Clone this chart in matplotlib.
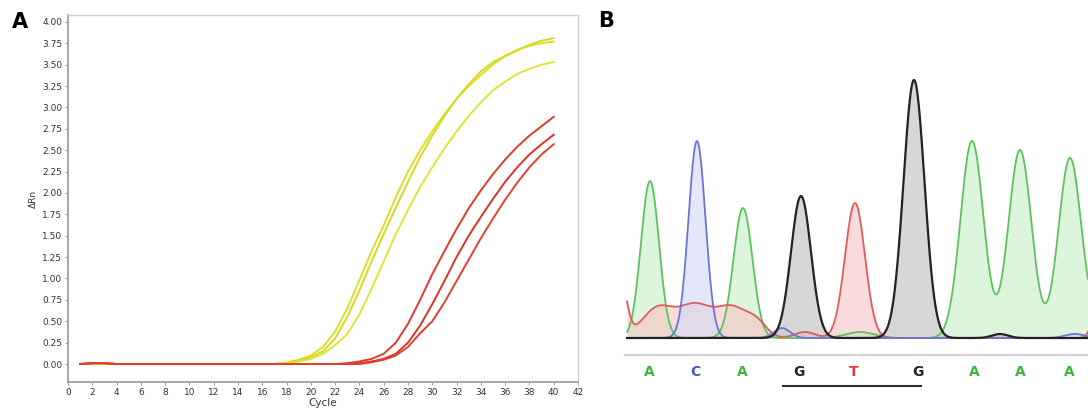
import numpy as np
import matplotlib
matplotlib.use("Agg")
import matplotlib.pyplot as plt

# ---- panel A: amplification curves (delta Rn per cycle) ----
cycles = list(range(1, 41))

def pad(tail, n=40):
    # leading cycles are flat at zero, tail holds the last len(tail) cycles
    return [0.0] * (n - len(tail)) + tail

yellow_1 = pad([0.02, 0.05, 0.10, 0.20, 0.38, 0.65, 0.98, 1.32, 1.62, 1.95, 2.25, 2.50,
                2.72, 2.92, 3.10, 3.25, 3.38, 3.50, 3.60, 3.67, 3.72, 3.75, 3.77])
yellow_2 = pad([0.01, 0.04, 0.08, 0.15, 0.30, 0.55, 0.86, 1.20, 1.52, 1.83, 2.13, 2.42,
                2.67, 2.90, 3.10, 3.27, 3.42, 3.53, 3.60, 3.67, 3.73, 3.78, 3.81])
yellow_3 = pad([0.01, 0.03, 0.06, 0.12, 0.22, 0.35, 0.58, 0.88, 1.20, 1.52, 1.80, 2.07,
                2.30, 2.52, 2.72, 2.90, 3.06, 3.20, 3.30, 3.39, 3.45, 3.50, 3.53])
red_1 = pad([0.01, 0.03, 0.06, 0.12, 0.25, 0.47, 0.75, 1.05, 1.32, 1.58, 1.82, 2.03,
             2.22, 2.39, 2.54, 2.67, 2.78, 2.89])
red_2 = pad([0.01, 0.03, 0.06, 0.12, 0.25, 0.45, 0.70, 0.97, 1.25, 1.50, 1.72, 1.93,
             2.13, 2.30, 2.45, 2.57, 2.68])
red_3 = pad([0.02, 0.05, 0.10, 0.20, 0.36, 0.50, 0.72, 0.97, 1.22, 1.47, 1.70, 1.92,
             2.12, 2.30, 2.45, 2.57])
# tiny early wobble of the red traces
for v in (red_1, red_2, red_3):
    v[1] = 0.01
    v[2] = 0.01

# ---- panel B: Sanger trace, peaks per channel (centre, height, width) ----
bases = ["A", "C", "A", "G", "T", "G", "A", "A", "A"]
base_pos = [649, 695, 742, 799, 854, 918, 974, 1020, 1069]

green_peaks = [(650, 157, 9), (743, 130, 9.5), (972, 197, 11.5), (1020, 188, 11.5),
               (1070, 180, 11.5), (1118, 190, 11.5), (860, 6, 14)]
blue_peaks = [(697, 197, 8.5), (782, 10, 8), (1075, 4, 10)]
black_peaks = [(801, 142, 10), (914, 258, 10.5), (1000, 4, 8)]
red_peaks = [(622, 48, 5.5), (658, 30, 16), (695, 31, 16), (732, 30, 16), (757, 12, 10),
             (855, 135, 10), (805, 6, 10), (1100, 45, 6)]

trace_colors = {"green": ("#5cc35c", "#c6efc6"), "blue": ("#6a74d4", "#d2d8f7"),
                "black": ("#222222", "#bdbdbd"), "red": ("#e35a5a", "#f7c3c3")}
base_colors = {"A": "#3db53d", "C": "#4458b8", "G": "#222222", "T": "#e03a3a"}

fig = plt.figure(figsize=(10.88, 4.12), dpi=100)

axA = fig.add_axes([68 / 1088, 30 / 412, 510 / 1088, 367 / 412])
for vals, col in [(yellow_1, "#dede2a"), (yellow_2, "#d8d820"), (yellow_3, "#e2e236"),
                  (red_1, "#e03a2e"), (red_2, "#dc3226"), (red_3, "#e2402e")]:
    axA.plot(cycles, vals, color=col, lw=1.4)
axA.set_xlim(0, 42)
axA.set_ylim(-0.21, 4.08)
axA.set_xticks(range(0, 43, 2))
axA.set_yticks(np.arange(0, 4.01, 0.25))
axA.yaxis.set_major_formatter(matplotlib.ticker.FormatStrFormatter("%.2f"))
axA.tick_params(labelsize=6.5, length=2, width=0.6, color="#888888",
                labelcolor="#333333", pad=2)
for s in ["left", "bottom"]:
    axA.spines[s].set_color("#999999")
    axA.spines[s].set_linewidth(1.2)
for s in ["top", "right"]:
    axA.spines[s].set_color("#d0d0d0")
    axA.spines[s].set_linewidth(1.0)
axA.set_xlabel("Cycle", fontsize=7.5, color="#333333", labelpad=1)
axA.set_ylabel("\u0394Rn", fontsize=6.5, color="#333333", labelpad=3)
fig.text(12 / 1088, 1 - 22 / 412, "A", fontsize=15, fontweight="bold", va="center")

axB = fig.add_axes([600 / 1088, 0, 488 / 1088, 1])
axB.set_xlim(600, 1088)
axB.set_ylim(412, 0)
axB.axis("off")
baseline = 338
x = np.linspace(627, 1088, 1200)

def trace(peaks):
    s = np.zeros_like(x)
    for c, h, w in peaks:
        s += h * np.exp(-0.5 * ((x - c) / w) ** 2)
    return baseline - s

order = [("green", green_peaks), ("red", red_peaks), ("blue", blue_peaks), ("black", black_peaks)]
for name, peaks in order:
    y = trace(peaks)
    line_c, fill_c = trace_colors[name]
    axB.fill_between(x, y, baseline, color=fill_c, alpha=0.6, lw=0)
for name, peaks in order:
    y = trace(peaks)
    line_c, fill_c = trace_colors[name]
    axB.plot(x, y, color=line_c, lw=1.6 if name == "black" else 1.3)

axB.plot([625, 1088], [355, 355], color="#d4d4d4", lw=1.6)
for b, p in zip(bases, base_pos):
    axB.text(p, 372, b, color=base_colors[b], fontsize=10, fontweight="bold",
             ha="center", va="center")
axB.plot([783, 921], [386, 386], color="#333333", lw=1.5)
fig.text(598 / 1088, 1 - 21 / 412, "B", fontsize=15, fontweight="bold", va="center")

fig.savefig("out.png", dpi=100)
